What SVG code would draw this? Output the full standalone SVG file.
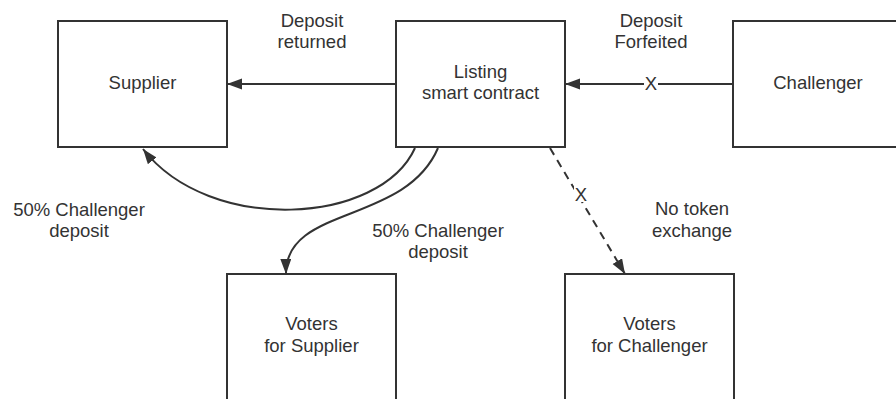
<svg xmlns="http://www.w3.org/2000/svg" width="896" height="399" viewBox="0 0 896 399">
<defs>
<style>
.box{fill:#fff;stroke:#333;stroke-width:2}
.t{font-family:"Liberation Sans",Arial,sans-serif;font-size:18.5px;fill:#333;text-anchor:middle}
.c{fill:none;stroke:#333;stroke-width:2}
.d{stroke-dasharray:8 6}
</style>
<marker id="ah" markerUnits="userSpaceOnUse" markerWidth="16" markerHeight="12" refX="15" refY="5.5" orient="auto">
<path d="M0,0 L15,5.5 L0,11 z" fill="#333"/>
</marker>
</defs>
<rect width="896" height="399" fill="#fff"/>
<g id="supplier">
<rect class="box" x="58" y="21" width="169" height="126"/>
<text class="t" x="142.5" y="89">Supplier</text>
</g>
<g id="listing">
<rect class="box" x="396" y="21" width="169" height="126"/>
<text class="t" x="480.5" y="78">Listing</text>
<text class="t" x="480.5" y="99">smart contract</text>
</g>
<g id="challenger">
<rect class="box" x="733" y="21" width="170" height="126"/>
<text class="t" x="818" y="89">Challenger</text>
</g>
<g id="voters-supplier">
<rect class="box" x="227" y="274" width="169" height="130"/>
<text class="t" x="311.5" y="330">Voters</text>
<text class="t" x="311.5" y="352">for Supplier</text>
</g>
<g id="voters-challenger">
<rect class="box" x="565" y="274" width="169" height="130"/>
<text class="t" x="649.5" y="330">Voters</text>
<text class="t" x="649.5" y="352">for Challenger</text>
</g>
<g id="connectors">
<path class="c" d="M396,84 L227,84" marker-end="url(#ah)"/>
<path class="c" d="M733,84 L565,84" marker-end="url(#ah)"/>
<rect x="644" y="76" width="14" height="16" fill="#fff"/>
<text class="t" x="651" y="90">X</text>
<path class="c" d="M415,148 C380,225 210,235 143,149" marker-end="url(#ah)"/>
<path class="c" d="M438,148 C405,225 285,205 286,274" marker-end="url(#ah)"/>
<path class="c d" d="M550,148 L625,274" marker-end="url(#ah)"/>
<rect x="574" y="186" width="14" height="16" fill="#fff"/>
<text class="t" x="581" y="201">X</text>
<text class="t" x="312" y="27">Deposit</text>
<text class="t" x="312" y="48">returned</text>
<text class="t" x="651" y="27">Deposit</text>
<text class="t" x="651" y="48">Forfeited</text>
<text class="t" x="79" y="216">50% Challenger</text>
<text class="t" x="79" y="237">deposit</text>
<text class="t" x="438" y="237">50% Challenger</text>
<text class="t" x="438" y="258">deposit</text>
<text class="t" x="692" y="215">No token</text>
<text class="t" x="692" y="237">exchange</text>
</g>
</svg>
